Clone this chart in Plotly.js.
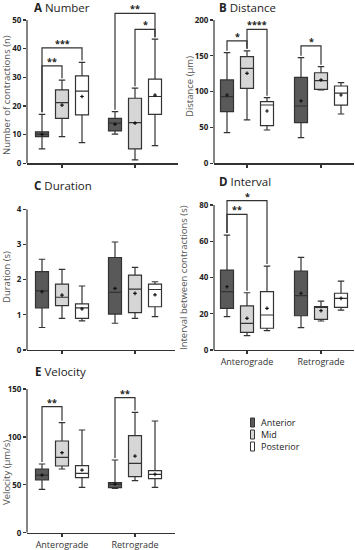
<!DOCTYPE html>
<html><head><meta charset="utf-8">
<script src="https://cdn.plot.ly/plotly-3.0.1.min.js"></script>
<style>html,body{margin:0;padding:0;background:#fff;}#chart{width:355px;height:550px;}</style>
</head><body><div id="chart"></div>
<script>
// ---- data ----
const directions = ['Anterograde', 'Retrograde'];
const regions = ['Anterior', 'Mid', 'Posterior'];
// each row: [lowerfence, q1, median, q3, upperfence, mean]
// rows: Antero-Anterior, Antero-Mid, Antero-Posterior, Retro-Anterior, Retro-Mid, Retro-Posterior
const numberStats = [
  [5, 9.3, 10.2, 11, 17.1, 10.1],
  [9.3, 15.7, 21.2, 25.6, 29, 20.3],
  [7.2, 16.9, 25.2, 30.5, 35.2, 23.3],
  [10.2, 11.3, 14, 15.7, 18, 13.6],
  [1.2, 5, 14.2, 22.7, 26.2, 14],
  [6.2, 17.1, 23.3, 29.4, 43.3, 23.8]
];
const distanceStats = [
  [42.8, 72, 93, 116.3, 154.4, 95.3],
  [60.5, 104.7, 132.6, 148.8, 157, 125.6],
  [46.5, 52.6, 81.4, 86, 91.6, 73],
  [35.8, 56.7, 80, 120, 147.4, 87],
  [102.3, 103.3, 115.3, 126.4, 134.8, 116.3],
  [68.8, 81.3, 98, 107.9, 112.5, 95.3]
];
const durationStats = [
  [0.64, 1.2, 1.68, 2.23, 2.58, 1.66],
  [0.9, 1.26, 1.5, 1.87, 2.29, 1.56],
  [0.83, 0.9, 1.2, 1.31, 1.82, 1.17],
  [0.76, 1.02, 1.64, 2.63, 3.07, 1.75],
  [0.9, 1.06, 1.73, 2.13, 2.35, 1.61],
  [0.95, 1.23, 1.72, 1.87, 1.94, 1.57]
];
const intervalStats = [
  [18.4, 23, 32.2, 44.1, 63.4, 34.9],
  [7.9, 9.7, 14.7, 24.3, 31.6, 17.5],
  [10.7, 12, 19.3, 32.2, 46.3, 23],
  [12.3, 18.9, 30, 43.6, 51.1, 31.3],
  [16, 16.9, 23.5, 24, 27, 21.7],
  [22, 23.5, 28.5, 31.3, 38, 28.5]
];
const velocityStats = [
  [45.2, 55, 60.2, 66.5, 71.7, 60.2],
  [66.5, 69.6, 78.7, 95.7, 114.9, 83.5],
  [47.3, 57.4, 62, 70, 107.2, 65.4],
  [46.3, 47, 50.5, 52.2, 75.9, 50.8],
  [54.3, 58.5, 72.4, 101.3, 125.6, 80],
  [47.3, 56.4, 60.9, 64.7, 116.6, 60.9]
];
// significance brackets: [fromBox, toBox, height, label]
const numberSig = [[0, 1, 34, '**'], [0, 2, 40.3, '***'], [3, 5, 52.3, '**'], [4, 5, 46.7, '*']];
const distanceSig = [[0, 1, 171, '*'], [1, 2, 187, '****'], [3, 4, 164, '*']];
const durationSig = [];
const intervalSig = [[0, 1, 74.8, '**'], [0, 2, 82.4, '*']];
const velocitySig = [[0, 1, 131.6, '**'], [3, 4, 141, '**']];

const panelTitles = [['A', 'Number'], ['B', 'Distance'], ['C', 'Duration'], ['D', 'Interval'], ['E', 'Velocity']];
const yTitles = ['Number of contractions (n)', 'Distance (\u00b5m)', 'Duration (s)', 'Interval between contractions (s)', 'Velocity (\u00b5m/s)'];

// ---- layout (pixels) ----
const W = 355, H = 550;
const FONT = 'Open Sans, sans-serif';
const LINE = '#333333';
const fills = ['#595959', '#d6d6d6', '#ffffff'];
const panels = [
  {stats: numberStats, sig: numberSig, left: 27, right: 178, t1: 62, t2: 135, y0: 163.3, yTopPx: 20, axisTop: 50, rangeTop: 56, dtick: 10, showX: false, tX: 33, tY: 8, ytX: 6, ytY: 95},
  {stats: distanceStats, sig: distanceSig, left: 214, right: 354, t1: 247, t2: 321, y0: 163.3, yTopPx: 20, axisTop: 200, rangeTop: 200, dtick: 50, showX: false, tX: 218, tY: 8, ytX: 189, ytY: 86},
  {stats: durationStats, sig: durationSig, left: 27, right: 175, t1: 62, t2: 135, y0: 350, yTopPx: 209.3, axisTop: 4, rangeTop: 4, dtick: 1, showX: false, tX: 33, tY: 186, ytX: 6, ytY: 277},
  {stats: intervalStats, sig: intervalSig, left: 214, right: 354, t1: 247, t2: 321, y0: 350, yTopPx: 205, axisTop: 80, rangeTop: 86, dtick: 20, showX: true, tX: 218, tY: 181.5, ytX: 183, ytY: 278},
  {stats: velocityStats, sig: velocitySig, left: 27, right: 175, t1: 62, t2: 135, y0: 532.7, yTopPx: 389, axisTop: 150, rangeTop: 150, dtick: 50, showX: true, tX: 34, tY: 371, ytX: 6, ytY: 473}
];

const traces = [];
const layout = {
  width: W, height: H, margin: {l: 0, r: 0, t: 0, b: 0},
  paper_bgcolor: '#fff', plot_bgcolor: 'rgba(0,0,0,0)',
  showlegend: false, font: {family: FONT, color: '#333'},
  shapes: [], annotations: []
};

panels.forEach((p, i) => {
  const n = i + 1;
  const xa = n === 1 ? 'x' : 'x' + n;
  const ya = n === 1 ? 'y' : 'y' + n;
  const ppx = p.t2 - p.t1;
  const ppu = (p.y0 - p.yTopPx) / p.axisTop;
  const topPx = p.y0 - p.rangeTop * ppu;
  const off = 20 / ppx, bw = 13 / ppx;
  const xpos = k => (k < 3 ? 1 : 2) + (k % 3 - 1) * off;

  layout['xaxis' + (n === 1 ? '' : n)] = {
    domain: [p.left / W, p.right / W], anchor: ya,
    range: [1 - (p.t1 - p.left) / ppx, 2 + (p.right - p.t2) / ppx],
    tickvals: [1, 2], ticktext: directions, showticklabels: p.showX,
    ticks: 'outside', ticklen: 3, tickwidth: 1.2, tickcolor: LINE,
    showline: true, linecolor: LINE, linewidth: 1.2,
    showgrid: false, zeroline: false, fixedrange: true,
    tickfont: {family: FONT, size: 9, color: '#333'}
  };
  const tv = [];
  for (let v = 0; v <= p.axisTop + 1e-9; v += p.dtick) tv.push(+v.toFixed(3));
  layout['yaxis' + (n === 1 ? '' : n)] = {
    domain: [1 - p.y0 / H, 1 - topPx / H], anchor: xa,
    range: [0, p.rangeTop], tickvals: tv,
    ticks: 'outside', ticklen: 3, tickwidth: 1.2, tickcolor: LINE,
    showline: false, showgrid: false, zeroline: false, fixedrange: true,
    tickfont: {family: FONT, size: 8, color: '#222', weight: 'bold'}
  };
  // y axis line up to top tick
  layout.shapes.push({type: 'line', xref: xa + ' domain', yref: ya, x0: 0, x1: 0, y0: 0, y1: p.axisTop,
    line: {color: LINE, width: 1.2}});

  regions.forEach((r, j) => {
    const rows = [p.stats[j], p.stats[3 + j]];
    traces.push({
      type: 'box', xaxis: xa, yaxis: ya, name: r,
      x: [xpos(j), xpos(3 + j)],
      lowerfence: rows.map(s => s[0]), q1: rows.map(s => s[1]), median: rows.map(s => s[2]),
      q3: rows.map(s => s[3]), upperfence: rows.map(s => s[4]),
      width: bw, whiskerwidth: 0.5, boxpoints: false,
      fillcolor: fills[j], line: {color: LINE, width: 1.2},
      hoverinfo: 'skip', showlegend: false
    });
    traces.push({
      type: 'scatter', mode: 'markers', xaxis: xa, yaxis: ya,
      x: [xpos(j), xpos(3 + j)], y: rows.map(s => s[5]),
      marker: {symbol: 'cross', size: 3, color: '#111'},
      hoverinfo: 'skip', showlegend: false
    });
  });

  const gap = 2 / ppu;
  p.sig.forEach(([a, b, h, lab]) => {
    const xa0 = xpos(a), xb0 = xpos(b);
    const ya0 = p.stats[a][4] + gap, yb0 = p.stats[b][4] + gap;
    layout.shapes.push({type: 'path', xref: xa, yref: ya,
      path: `M${xa0},${ya0} L${xa0},${h} L${xb0},${h} L${xb0},${yb0}`,
      line: {color: LINE, width: 1.2}});
    layout.annotations.push({xref: xa, yref: ya, x: (xa0 + xb0) / 2, y: h, yanchor: 'bottom',
      yshift: -3, borderpad: 0, text: lab, showarrow: false,
      font: {family: FONT, size: 9, color: '#222', weight: 'bold'}});
  });

  layout.annotations.push({xref: 'paper', yref: 'paper', x: p.tX / W, y: 1 - p.tY / H,
    xanchor: 'left', yanchor: 'middle', showarrow: false, borderpad: 0,
    text: '<b>' + panelTitles[i][0] + '</b> ' + panelTitles[i][1],
    font: {family: FONT, size: 11.5, color: '#222'}});
  layout.annotations.push({xref: 'paper', yref: 'paper', x: p.ytX / W, y: 1 - p.ytY / H,
    xanchor: 'center', yanchor: 'middle', textangle: -90, showarrow: false, borderpad: 0,
    text: yTitles[i], font: {family: FONT, size: 9.5, color: '#555'}});
});

// legend
const legY = [422.5, 434.5, 446.5];
regions.forEach((r, j) => {
  layout.shapes.push({type: 'rect', xref: 'paper', yref: 'paper',
    x0: 250.5 / W, x1: 254.5 / W, y0: 1 - (legY[j] + 4.5) / H, y1: 1 - (legY[j] - 4.5) / H,
    fillcolor: fills[j], line: {color: LINE, width: 1}});
  layout.annotations.push({xref: 'paper', yref: 'paper', x: 260 / W, y: 1 - legY[j] / H,
    xanchor: 'left', yanchor: 'middle', showarrow: false, borderpad: 0, text: r,
    font: {family: FONT, size: 9, color: '#222'}});
});

Plotly.newPlot('chart', traces, layout, {staticPlot: true, displayModeBar: false});
</script></body></html>
